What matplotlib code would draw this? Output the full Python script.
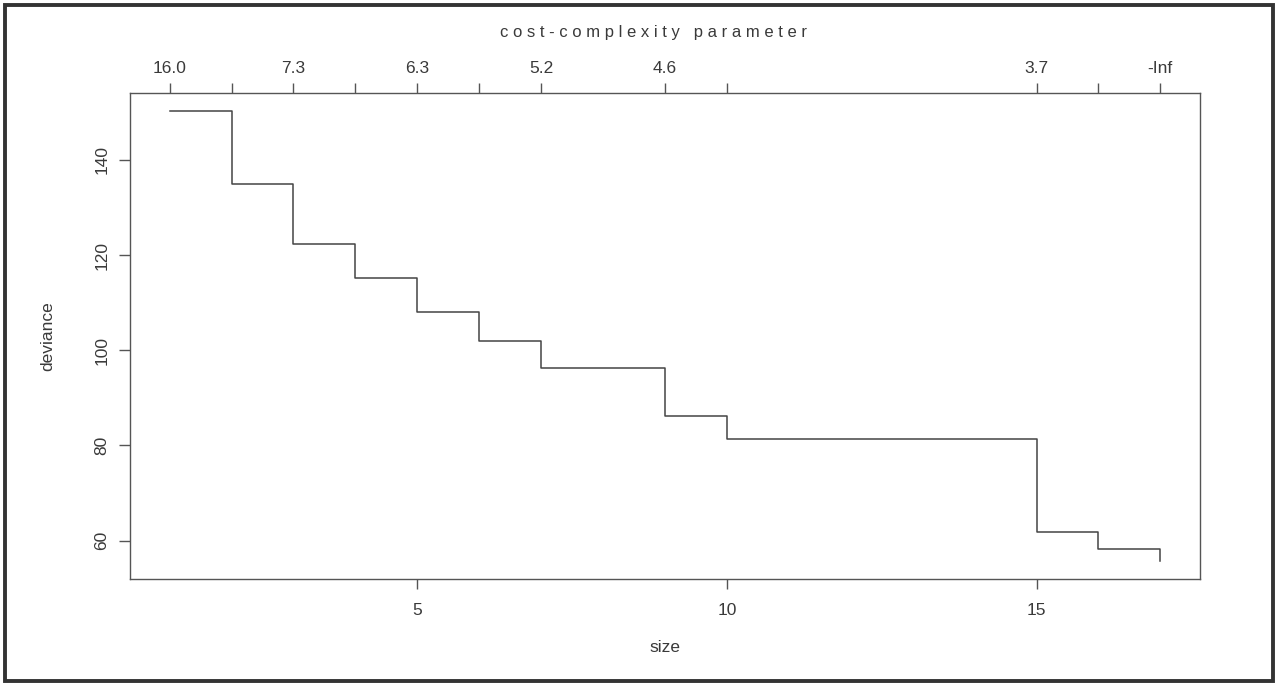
import matplotlib
matplotlib.use("Agg")
import matplotlib.pyplot as plt
from matplotlib.patches import Rectangle

# tree size vs. deviance (pruning sequence)
size = [1, 2, 3, 4, 5, 6, 7, 9, 10, 15, 16, 17]
deviance = [150.3, 134.9, 122.3, 115.1, 108.1, 102.0, 96.3, 86.1, 81.4, 61.9, 58.3, 55.7]
# cost-complexity labels on top axis (hidden ones left blank, as in the original)
k_labels = ["16.0", "", "7.3", "", "6.3", "", "5.2", "4.6", "", "3.7", "", "-Inf"]
x_ticks = [5, 10, 15]
y_ticks = [60, 80, 100, 120, 140]

plt.rcParams['font.family'] = ['Liberation Sans', 'DejaVu Sans']
ink = '#3a3a3a'

fig = plt.figure(figsize=(12.76, 6.84), dpi=100)
ax = fig.add_axes([130 / 1276, 1 - 579 / 684, 1070 / 1276, 486 / 684])

ax.step(size, deviance, where='post', color='#444444', lw=1.1)
ax.margins(x=0.04, y=0.04)

for s in ax.spines.values():
    s.set_color('#555555')
    s.set_linewidth(1.0)

ax.set_xticks(x_ticks)
ax.set_yticks(y_ticks)
ax.set_yticklabels([str(v) for v in y_ticks], rotation=90, va='center')
ax.tick_params(axis='x', direction='out', length=7, width=1, color='#555555',
               labelsize=12.5, labelcolor=ink, pad=10)
ax.tick_params(axis='y', direction='out', length=8, width=1, color='#555555',
               labelsize=12.5, labelcolor=ink, pad=7)

ax.set_xlabel('size', fontsize=12.5, color=ink, labelpad=16)
ax.set_ylabel('deviance', fontsize=12.5, color=ink, labelpad=28)

top = ax.secondary_xaxis('top')
top.set_xticks(size)
top.set_xticklabels(k_labels)
top.tick_params(direction='out', length=7, width=1, color='#555555',
                labelsize=12.5, labelcolor=ink, pad=5)
top.spines['top'].set_visible(False)

title = 'cost-complexity parameter'
spaced = ' '.join(title)
fig.text(653 / 1276, 1 - 32 / 684, spaced, ha='center', va='center',
         fontsize=12, color=ink)

# outer frame around the whole figure
fig.patches.append(Rectangle((5 / 1276, 3 / 684), 1268 / 1276, 676 / 684,
                             transform=fig.transFigure, fill=False,
                             edgecolor='#333333', lw=2.8))

fig.savefig('out.png', dpi=100)
